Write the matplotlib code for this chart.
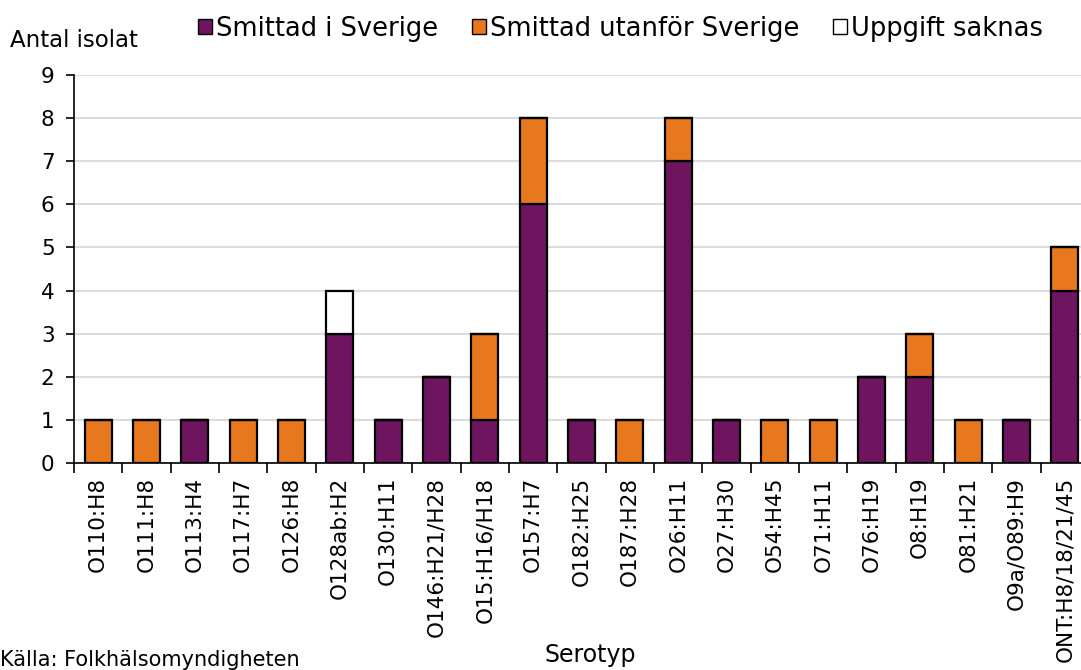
import numpy as np
import matplotlib
matplotlib.use("Agg")
import matplotlib.pyplot as plt
from matplotlib.patches import Patch

plt.rcParams['font.family'] = ['DejaVu Sans']

serotyper = ["O110:H8", "O111:H8", "O113:H4", "O117:H7", "O126:H8", "O128ab:H2",
             "O130:H11", "O146:H21/H28", "O15:H16/H18", "O157:H7", "O182:H25",
             "O187:H28", "O26:H11", "O27:H30", "O54:H45", "O71:H11", "O76:H19",
             "O8:H19", "O81:H21", "O9a/O89:H9", "ONT:H8/18/21/45"]
sverige = [0, 0, 1, 0, 0, 3, 1, 2, 1, 6, 1, 0, 7, 1, 0, 0, 2, 2, 0, 1, 4]
utomlands = [1, 1, 0, 1, 1, 0, 0, 0, 2, 2, 0, 1, 1, 0, 1, 1, 0, 1, 1, 0, 1]
saknas = [0, 0, 0, 0, 0, 1, 0, 0, 0, 0, 0, 0, 0, 0, 0, 0, 0, 0, 0, 0, 0]

purple = "#6F1560"
orange = "#E8781E"

fig = plt.figure(figsize=(10.81, 6.70), dpi=100)
# axes runs past the right edge, as in the original (last bar is clipped)
ax = fig.add_axes([0.0685, 0.309, 0.939, 0.579])

x = np.arange(len(serotyper))
sv = np.array(sverige)
ut = np.array(utomlands)
sa = np.array(saknas)
w = 0.56
ax.bar(x, sv, w, color=purple, edgecolor="black", linewidth=1.6, zorder=3)
ax.bar(x, ut, w, bottom=sv, color=orange, edgecolor="black", linewidth=1.6, zorder=3)
ax.bar(x, sa, w, bottom=sv + ut, color="white", edgecolor="black", linewidth=1.6, zorder=3)

ax.set_xlim(-0.5, len(serotyper) - 0.5)
ax.set_ylim(0, 9)
ax.set_yticks(range(0, 10))
ax.yaxis.grid(True, color="#dcdcdc", linewidth=1.5, zorder=0)
ax.set_axisbelow(True)
for s in ["top", "right"]:
    ax.spines[s].set_visible(False)
ax.spines["left"].set_linewidth(1.2)
ax.spines["bottom"].set_linewidth(1.2)

ax.set_xticks(x)
ax.set_xticklabels(serotyper, rotation=90, fontsize=15.5)
ax.tick_params(axis="x", length=0, pad=10)
ax.set_xticks(np.arange(-0.5, len(serotyper), 1), minor=True)
ax.tick_params(axis="x", which="minor", length=7, width=1.2, direction="out")
ax.tick_params(axis="y", labelsize=15.5, length=6, width=1.2, direction="out", pad=8)

fig.text(0.009, 0.94, "Antal isolat", fontsize=16.5, ha="left", va="center")
fig.text(0.546, 0.022, "Serotyp", fontsize=17, ha="center", va="center")
fig.text(0.0, 0.015, "Källa: Folkhälsomyndigheten", fontsize=15, ha="left", va="center")

handles = [Patch(facecolor=purple, edgecolor="black", label="Smittad i Sverige"),
           Patch(facecolor=orange, edgecolor="black", label="Smittad utanför Sverige"),
           Patch(facecolor="white", edgecolor="black", label="Uppgift saknas")]
fig.legend(handles=handles, loc="center", bbox_to_anchor=(0.574, 0.957), ncol=3,
           frameon=False, fontsize=18.5, handlelength=0.55, handleheight=0.55,
           handletextpad=0.15, columnspacing=1.3)

fig.savefig("out.png", dpi=100)
